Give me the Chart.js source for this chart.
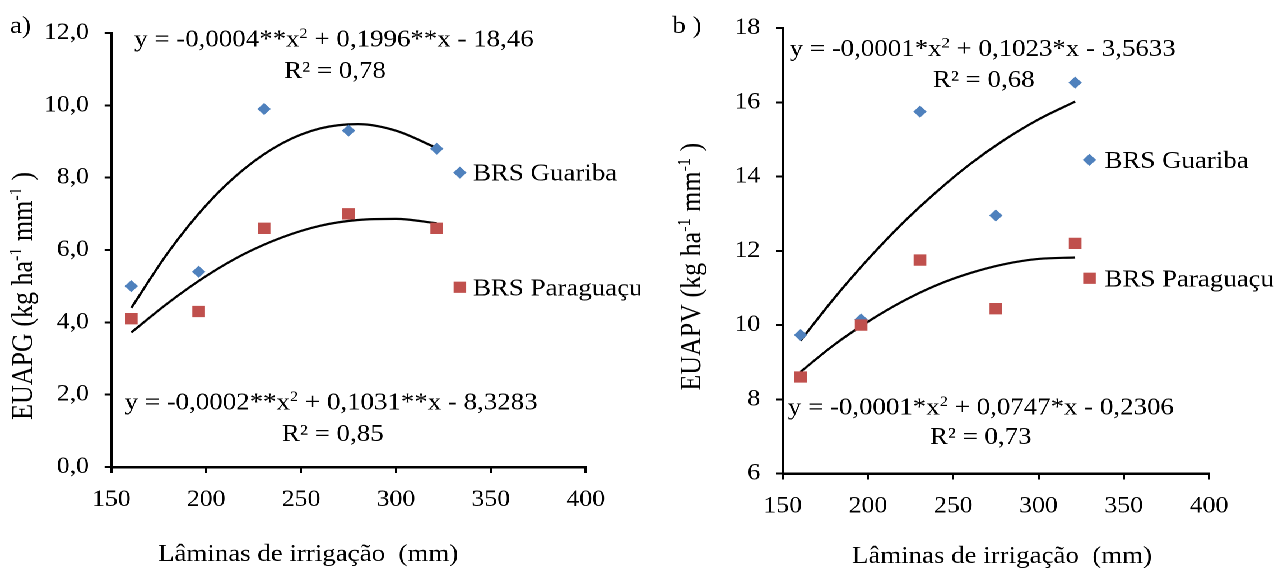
<!DOCTYPE html>
<html>
<head>
<meta charset="utf-8">
<script src="https://cdn.jsdelivr.net/npm/chart.js@4.4.1/dist/chart.umd.min.js"></script>
<style>
  html, body { margin: 0; padding: 0; background: #fff; overflow: hidden; }
  /* the figure is a little wider than tall in its lettering, so the whole
     row is drawn narrower and stretched sideways */
  #row { display: flex; width: 1137px; height: 568px; transform: scaleX(1.1205); transform-origin: 0 0; }
  .panel { position: relative; height: 568px; }
</style>
</head>
<body>
<div id="row">
  <div class="panel" style="width:571px"><canvas id="chartA"></canvas></div>
  <div class="panel" style="width:566px"><canvas id="chartB"></canvas></div>
</div>
<script>
// Lâminas de irrigação (mm)
const laminas = [160.5, 196, 230.5, 275, 321.5];

// a) EUAPG
const guaribaEUAPG = [5.0, 5.4, 9.9, 9.3, 8.8];
const paraguacuEUAPG = [4.1, 4.3, 6.6, 7.0, 6.6];

// b) EUAPV
const guaribaEUAPV = [9.73, 10.15, 15.75, 12.95, 16.53];
const paraguacuEUAPV = [8.6, 10.0, 11.75, 10.44, 12.2];

// fitted curves
const fitX = [160.5, 180, 200, 220, 240, 260, 280, 300, 321.5];
const fitGuaribaA = [4.40, 5.94, 7.24, 8.24, 8.95, 9.36, 9.48, 9.30, 8.82];
const fitParaguacuA = [3.72, 4.54, 5.28, 5.89, 6.35, 6.67, 6.83, 6.86, 6.74];
const fitGuaribaB = [9.58, 10.71, 11.77, 12.73, 13.58, 14.34, 14.99, 15.54, 16.02];
const fitParaguacuB = [8.74, 9.46, 10.09, 10.63, 11.07, 11.40, 11.64, 11.78, 11.82];

const seriesNames = ['BRS Guariba', 'BRS Paraguaçu'];
const xTicks = [150, 200, 250, 300, 350, 400];
const yTicksA = [0, 2, 4, 6, 8, 10, 12];
const yTicksB = [6, 8, 10, 12, 14, 16, 18];

const BLUE = '#4F81BD';
const RED = '#C0504D';
const FONT = "'Liberation Serif', 'Times New Roman', serif";

Chart.defaults.font.family = FONT;
Chart.defaults.color = '#000';

function pts(xs, ys) {
  return xs.map((x, i) => ({ x: x, y: ys[i] }));
}

// text with optional superscript pieces: strings or {sup: '...'}
function drawRich(ctx, parts, x, y, align, size) {
  const supSize = size * 0.62;
  let total = 0;
  const widths = parts.map(p => {
    ctx.font = (typeof p === 'string' ? size : supSize) + 'px ' + FONT;
    const w = ctx.measureText(typeof p === 'string' ? p : p.sup).width;
    total += w;
    return w;
  });
  let cx = align === 'center' ? x - total / 2 : x;
  ctx.textAlign = 'left';
  ctx.textBaseline = 'alphabetic';
  parts.forEach((p, i) => {
    if (typeof p === 'string') {
      ctx.font = size + 'px ' + FONT;
      ctx.fillText(p, cx, y);
    } else {
      ctx.font = supSize + 'px ' + FONT;
      ctx.fillText(p.sup, cx, y - size * 0.36);
    }
    cx += widths[i];
  });
}

function notesPlugin(cfg) {
  return {
    id: 'notes',
    afterDraw(chart) {
      const ctx = chart.ctx;
      const xs = chart.scales.x, ys = chart.scales.y;
      const area = chart.chartArea;
      ctx.save();
      ctx.fillStyle = '#000';

      drawRich(ctx, [cfg.tag], cfg.tagX, 33, 'left', 24);

      cfg.equations.forEach(eq => {
        drawRich(ctx, eq.parts, xs.getPixelForValue(eq.x), ys.getPixelForValue(eq.y) + 8, 'center', 24);
      });

      // legend inside the plot, as in the original
      cfg.legend.forEach((item, i) => {
        const mx = xs.getPixelForValue(cfg.legendX);
        const my = ys.getPixelForValue(item.y);
        ctx.fillStyle = item.color;
        ctx.beginPath();
        if (item.style === 'rectRot') {
          ctx.moveTo(mx - 6, my);
          ctx.lineTo(mx, my - 6);
          ctx.lineTo(mx + 6, my);
          ctx.lineTo(mx, my + 6);
          ctx.closePath();
        } else {
          ctx.rect(mx - 5.6, my - 5.6, 11.2, 11.2);
        }
        ctx.fill();
        ctx.fillStyle = '#000';
        drawRich(ctx, [seriesNames[i]], xs.getPixelForValue(cfg.legendTextX), my + 8, 'left', 24);
      });

      drawRich(ctx, ['Lâminas de irrigação  (mm)'], xs.getPixelForValue(cfg.xTitleAt), area.bottom + cfg.xTitleOffset, 'center', 24);

      ctx.save();
      ctx.translate(cfg.yTitleX + 9, ys.getPixelForValue(cfg.yTitleAt));
      ctx.rotate(-Math.PI / 2);
      drawRich(ctx, [cfg.yTitle + ' (kg ha', { sup: '-1' }, ' mm', { sup: '-1' }, ' )'], 0, 0, 'center', 26);
      ctx.restore();

      ctx.restore();
    }
  };
}

function buildChart(id, d) {
  const yTicks = d.yTicks;
  return new Chart(document.getElementById(id), {
    type: 'scatter',
    data: {
      datasets: [
        { label: seriesNames[1], data: pts(laminas, d.paraguacu), pointStyle: 'rect', pointRadius: 8, pointHoverRadius: 8, backgroundColor: RED, borderWidth: 0 },
        { label: seriesNames[0], data: pts(laminas, d.guariba), pointStyle: 'rectRot', pointRadius: 6, pointHoverRadius: 6, backgroundColor: BLUE, borderWidth: 0 },
        { data: pts(fitX, d.fitG), showLine: true, pointRadius: 0, borderColor: '#000', borderWidth: 2.2, cubicInterpolationMode: 'monotone' },
        { data: pts(fitX, d.fitP), showLine: true, pointRadius: 0, borderColor: '#000', borderWidth: 2.2, cubicInterpolationMode: 'monotone' }
      ]
    },
    options: {
      responsive: true,
      maintainAspectRatio: false,
      devicePixelRatio: 2,
      animation: false,
      layout: { padding: { left: 0, right: d.padRight, top: d.padTop, bottom: 0 } },
      plugins: { legend: { display: false }, tooltip: { enabled: false } },
      scales: {
        x: {
          type: 'linear',
          min: xTicks[0],
          max: xTicks[xTicks.length - 1],
          ticks: { stepSize: xTicks[1] - xTicks[0], padding: 13, font: { size: 23 }, color: '#000', maxRotation: 0 },
          grid: { drawOnChartArea: false, tickLength: 6, color: '#000', lineWidth: 2 },
          border: { color: '#000', width: 2.5 },
          afterFit: s => { s.height = d.xAxisHeight; }
        },
        y: {
          min: yTicks[0],
          max: yTicks[yTicks.length - 1],
          ticks: { stepSize: yTicks[1] - yTicks[0], padding: 14, font: { size: 23 }, color: '#000', callback: d.yFormat },
          grid: { drawOnChartArea: false, tickLength: 6, color: '#000', lineWidth: 2 },
          border: { color: '#000', width: 2.2 },
          afterFit: s => { s.width = d.yAxisWidth; }
        }
      }
    },
    plugins: [notesPlugin(d.notes)]
  });
}

buildChart('chartA', {
  guariba: guaribaEUAPG,
  paraguacu: paraguacuEUAPG,
  fitG: fitGuaribaA,
  fitP: fitParaguacuA,
  yTicks: yTicksA,
  yFormat: v => v.toFixed(1).replace('.', ','),
  yAxisWidth: 99.4, xAxisHeight: 101, padRight: 48.3, padTop: 33,
  notes: {
    tag: 'a)', tagX: 9,
    equations: [
      { x: 267.3, y: 11.85, parts: ['y = -0,0004**x', { sup: '2' }, ' + 0,1996**x - 18,46'] },
      { x: 267.9, y: 10.98, parts: ['R² = 0,78'] },
      { x: 265.8, y: 1.81, parts: ['y = -0,0002**x', { sup: '2' }, ' + 0,1031**x - 8,3283'] },
      { x: 266.7, y: 0.94, parts: ['R² = 0,85'] }
    ],
    legendX: 333.7, legendTextX: 340.6,
    legend: [
      { style: 'rectRot', color: BLUE, y: 8.14 },
      { style: 'rect', color: RED, y: 4.97 }
    ],
    xTitleAt: 253.7, xTitleOffset: 94,
    yTitle: 'EUAPG', yTitleX: 19.4, yTitleAt: 4.73
  }
});

buildChart('chartB', {
  guariba: guaribaEUAPV,
  paraguacu: paraguacuEUAPV,
  fitG: fitGuaribaB,
  fitP: fitParaguacuB,
  yTicks: yTicksB,
  yFormat: v => String(v),
  yAxisWidth: 127.5, xAxisHeight: 94.5, padRight: 58, padTop: 28.1,
  notes: {
    tag: 'b )', tagX: 29,
    equations: [
      { x: 267.3, y: 17.46, parts: ['y = -0,0001*x', { sup: '2' }, ' + 0,1023*x - 3,5633'] },
      { x: 267.9, y: 16.63, parts: ['R² = 0,68'] },
      { x: 266.2, y: 7.80, parts: ['y = -0,0001*x', { sup: '2' }, ' + 0,0747*x - 0,2306'] },
      { x: 266.1, y: 7.01, parts: ['R² = 0,73'] }
    ],
    legendX: 329.9, legendTextX: 338.7,
    legend: [
      { style: 'rectRot', color: BLUE, y: 14.45 },
      { style: 'rect', color: RED, y: 11.26 }
    ],
    xTitleAt: 278.6, xTitleOffset: 89.5,
    yTitle: 'EUAPV', yTitleX: 44.8, yTitleAt: 11.57
  }
});
</script>
</body>
</html>
